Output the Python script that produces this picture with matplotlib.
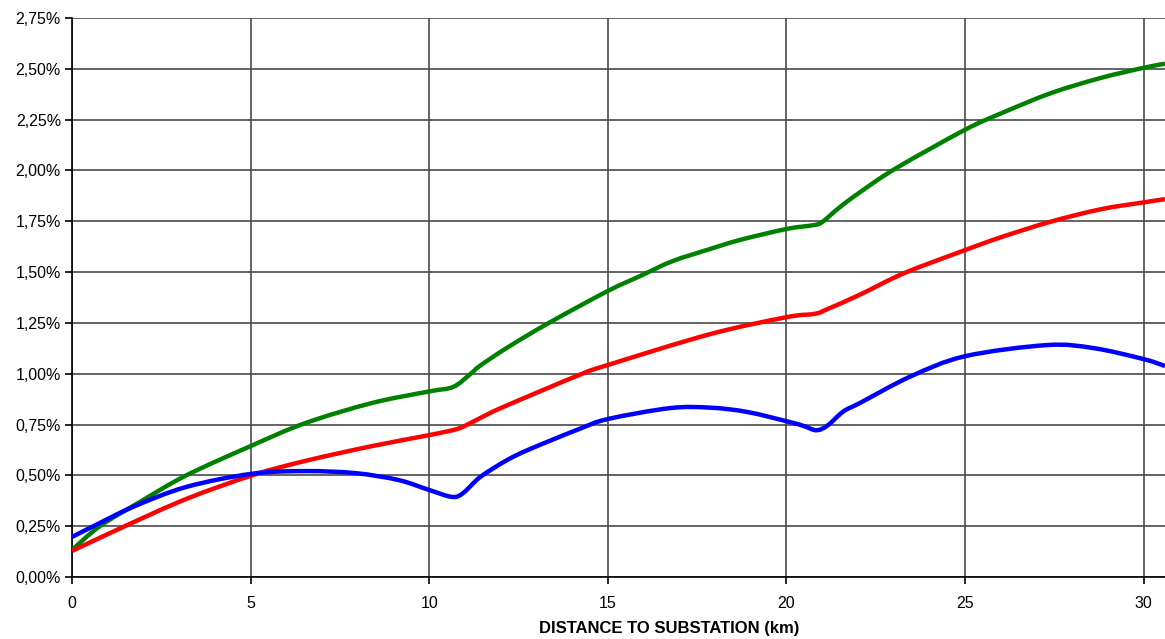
import matplotlib
matplotlib.use("Agg")
import matplotlib.pyplot as plt
import numpy as np
from matplotlib.path import Path
from matplotlib.patches import PathPatch
from matplotlib.ticker import FuncFormatter, MultipleLocator

plt.rcParams['font.family'] = ['Liberation Sans', 'DejaVu Sans']

# Distance to substation (km) and values (%) per series
green_x = [0, 0.78, 1.9, 3.2, 5.04, 6.53, 8.4, 10.0, 10.67, 11.15, 11.43, 12.2, 13.35, 15.0, 15.9, 16.8, 17.8, 18.7, 20.0, 20.76, 21.0, 21.5, 22.07, 23.08, 25.0, 26.0, 27.4, 28.8, 30.0, 30.6]
green_y = [0.133, 0.25, 0.369, 0.50, 0.647, 0.757, 0.856, 0.913, 0.935, 0.998, 1.04, 1.13, 1.25, 1.407, 1.48, 1.553, 1.61, 1.658, 1.712, 1.731, 1.746, 1.82, 1.894, 2.012, 2.20, 2.28, 2.38, 2.455, 2.505, 2.525]

red_x = [0, 1.48, 3.2, 5.04, 6.53, 8.4, 10.0, 10.78, 11.15, 11.43, 12.07, 14.2, 15.0, 17.87, 20.0, 20.8, 21.15, 22.07, 23.3, 25.0, 26.0, 27.4, 28.8, 30.0, 30.6]
red_y = [0.128, 0.25, 0.384, 0.50, 0.571, 0.644, 0.698, 0.728, 0.757, 0.782, 0.836, 0.994, 1.043, 1.195, 1.278, 1.295, 1.318, 1.39, 1.495, 1.608, 1.671, 1.748, 1.809, 1.843, 1.859]

blue_x = [0, 0.6, 1.71, 3.2, 5.04, 6.53, 7.93, 9.14, 10.0, 10.64, 10.95, 11.43, 12.18, 12.83, 14.2, 15.0, 16.75, 17.87, 18.9, 20.1, 20.5, 20.84, 21.15, 21.6, 22.07, 23.47, 25.0, 27.3, 28.6, 30.0, 30.6]
blue_y = [0.197, 0.25, 0.345, 0.443, 0.508, 0.521, 0.511, 0.477, 0.428, 0.394, 0.413, 0.492, 0.575, 0.63, 0.728, 0.777, 0.831, 0.833, 0.812, 0.762, 0.742, 0.722, 0.745, 0.815, 0.857, 0.986, 1.086, 1.141, 1.126, 1.072, 1.038]

x_ticks = [0, 5, 10, 15, 20, 25, 30]
x_label = "DISTANCE TO SUBSTATION (km)"


def smooth_path(xs, ys):
    """Smoothed line path (cubic Bezier segments through the data points)."""
    p = np.column_stack([xs, ys]).astype(float)
    n = len(p)
    verts = [p[0]]
    codes = [Path.MOVETO]
    for i in range(n - 1):
        p0 = p[i - 1] if i > 0 else p[i]
        p1 = p[i]
        p2 = p[i + 1]
        p3 = p[i + 2] if i + 2 < n else p[i + 1]
        c1 = p1 + (p2 - p0) / 6.0
        c2 = p2 - (p3 - p1) / 6.0
        verts += [c1, c2, p2]
        codes += [Path.CURVE4] * 3
    return Path(verts, codes)


fig = plt.figure(figsize=(11.65, 6.39), dpi=100)
ax = fig.add_axes([72 / 1165, 1 - 577 / 639, 1 - 72 / 1165, (577 - 18) / 639])

for spine in ['top', 'right']:
    ax.spines[spine].set_visible(False)
ax.spines['left'].set_color('black')
ax.spines['bottom'].set_color('black')
ax.spines['left'].set_linewidth(1.2)
ax.spines['bottom'].set_linewidth(1.2)

ax.set_xlim(0, 30.6)
ax.set_ylim(0, 2.75)
ax.set_xticks(x_ticks)
ax.yaxis.set_major_locator(MultipleLocator(0.25))
ax.yaxis.set_major_formatter(FuncFormatter(lambda v, p: f"{v:.2f}%".replace('.', ',')))

ax.grid(True, color='#4a4a4a', linewidth=1.2)
ax.set_axisbelow(True)

lw = 3.2
for xs, ys, col in [(green_x, green_y, '#008000'), (red_x, red_y, '#ff0000'), (blue_x, blue_y, '#0000ff')]:
    patch = PathPatch(smooth_path(xs, ys), facecolor='none', edgecolor=col, linewidth=lw,
                      joinstyle='round', capstyle='butt', transform=ax.transData, zorder=3)
    ax.add_patch(patch)

ax.tick_params(axis='both', direction='out', length=5, width=1.2, color='black', labelsize=11.5, labelcolor='black')
ax.tick_params(axis='y', pad=3)
ax.tick_params(axis='x', pad=9)
fig.text(669 / 1165, 1 - 629 / 639, x_label, fontsize=12, fontweight='bold', ha='center', va='center')

fig.savefig("out.png", dpi=100)
